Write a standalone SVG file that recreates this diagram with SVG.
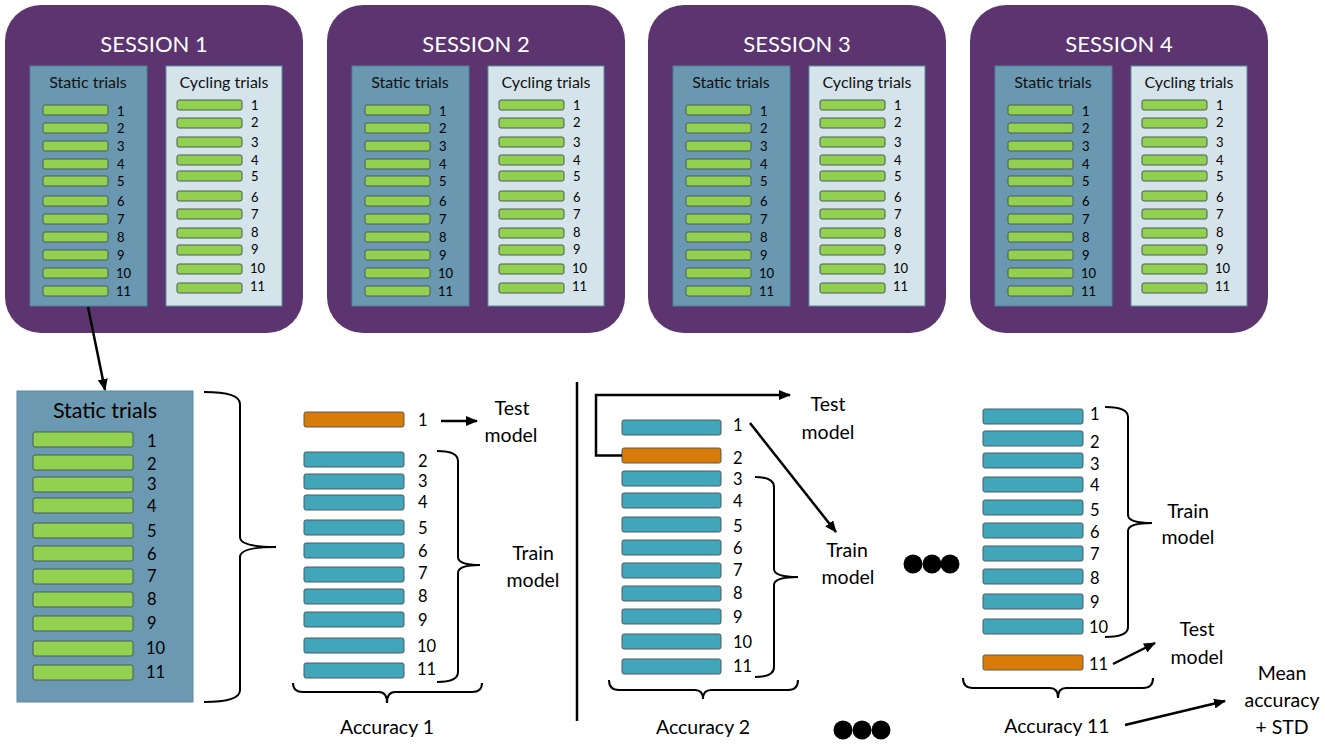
<svg xmlns="http://www.w3.org/2000/svg" width="1325" height="746" viewBox="0 0 1325 746">
<defs>
<style>
text{font-family:Lato,"Open Sans","Liberation Sans",sans-serif;fill:#000}
.sess{fill:#5c3470}
.title{font-size:22px;fill:#fff;text-anchor:middle}
.sp{fill:#6a98b1;stroke:#4f8096;stroke-width:1}
.cp{fill:#d5e4ea;stroke:#5f8d9c;stroke-width:1}
.ph{font-size:16px;text-anchor:middle;fill:#111}
.g{fill:#92d050;stroke:#4a5a52;stroke-width:1}
.t{fill:#42a6bb;stroke:#4a5a62;stroke-width:1}
.o{fill:#d97b09;stroke:#5a5a52;stroke-width:1}
.n{font-size:13px}
.m{font-size:16.5px}
.lbl{font-size:19.5px;text-anchor:middle}
.ln{fill:none;stroke:#000;stroke-width:2.5}
.br{fill:none;stroke:#000;stroke-width:2}
</style>
<marker id="ah" viewBox="0 0 12 10" refX="11" refY="5" markerWidth="12" markerHeight="10" markerUnits="userSpaceOnUse" orient="auto">
<path d="M0,0 L12,5 L0,10 z" fill="#000"/>
</marker>
</defs>

<g id="session1">
<rect class="sess" x="5" y="5" width="298" height="328" rx="36"/>
<text class="title" x="154" y="52">SESSION 1</text>
<rect class="sp" x="30" y="66" width="117" height="240"/>
<text class="ph" x="88" y="88">Static trials</text>
<rect class="g" x="43" y="105" width="65" height="10" rx="2"/><rect class="g" x="43" y="123" width="65" height="10" rx="2"/><rect class="g" x="43" y="141" width="65" height="10" rx="2"/><rect class="g" x="43" y="159" width="65" height="10" rx="2"/><rect class="g" x="43" y="176" width="65" height="10" rx="2"/><rect class="g" x="43" y="196" width="65" height="10" rx="2"/><rect class="g" x="43" y="214" width="65" height="10" rx="2"/><rect class="g" x="43" y="232" width="65" height="10" rx="2"/><rect class="g" x="43" y="250" width="65" height="10" rx="2"/><rect class="g" x="43" y="268" width="65" height="10" rx="2"/><rect class="g" x="43" y="286" width="65" height="10" rx="2"/>
<text class="n" x="117" y="115.5">1</text><text class="n" x="117" y="132.5">2</text><text class="n" x="117" y="150.5">3</text><text class="n" x="117" y="168.5">4</text><text class="n" x="117" y="185.5">5</text><text class="n" x="117" y="205.5">6</text><text class="n" x="117" y="223.5">7</text><text class="n" x="117" y="241.5">8</text><text class="n" x="117" y="259.5">9</text><text class="n" x="116" y="277.5">10</text><text class="n" x="116" y="295.5">11</text>
<rect class="cp" x="166" y="66" width="116" height="240"/>
<text class="ph" x="224" y="88">Cycling trials</text>
<rect class="g" x="177" y="100" width="65" height="10" rx="2"/><rect class="g" x="177" y="118" width="65" height="10" rx="2"/><rect class="g" x="177" y="137" width="65" height="10" rx="2"/><rect class="g" x="177" y="155" width="65" height="10" rx="2"/><rect class="g" x="177" y="171" width="65" height="10" rx="2"/><rect class="g" x="177" y="191" width="65" height="10" rx="2"/><rect class="g" x="177" y="209" width="65" height="10" rx="2"/><rect class="g" x="177" y="228" width="65" height="10" rx="2"/><rect class="g" x="177" y="245" width="65" height="10" rx="2"/><rect class="g" x="177" y="264" width="65" height="10" rx="2"/><rect class="g" x="177" y="283" width="65" height="10" rx="2"/>
<text class="n" x="251" y="109.5">1</text><text class="n" x="251" y="126.5">2</text><text class="n" x="251" y="146.5">3</text><text class="n" x="251" y="164.5">4</text><text class="n" x="251" y="180.5">5</text><text class="n" x="251" y="201.5">6</text><text class="n" x="251" y="218.5">7</text><text class="n" x="251" y="236.5">8</text><text class="n" x="251" y="253.5">9</text><text class="n" x="250" y="272.5">10</text><text class="n" x="250" y="290.5">11</text>
</g>

<g id="session2" transform="translate(322,0)">
<rect class="sess" x="5" y="5" width="298" height="328" rx="36"/>
<text class="title" x="154" y="52">SESSION 2</text>
<rect class="sp" x="30" y="66" width="117" height="240"/>
<text class="ph" x="88" y="88">Static trials</text>
<rect class="g" x="43" y="105" width="65" height="10" rx="2"/><rect class="g" x="43" y="123" width="65" height="10" rx="2"/><rect class="g" x="43" y="141" width="65" height="10" rx="2"/><rect class="g" x="43" y="159" width="65" height="10" rx="2"/><rect class="g" x="43" y="176" width="65" height="10" rx="2"/><rect class="g" x="43" y="196" width="65" height="10" rx="2"/><rect class="g" x="43" y="214" width="65" height="10" rx="2"/><rect class="g" x="43" y="232" width="65" height="10" rx="2"/><rect class="g" x="43" y="250" width="65" height="10" rx="2"/><rect class="g" x="43" y="268" width="65" height="10" rx="2"/><rect class="g" x="43" y="286" width="65" height="10" rx="2"/>
<text class="n" x="117" y="115.5">1</text><text class="n" x="117" y="132.5">2</text><text class="n" x="117" y="150.5">3</text><text class="n" x="117" y="168.5">4</text><text class="n" x="117" y="185.5">5</text><text class="n" x="117" y="205.5">6</text><text class="n" x="117" y="223.5">7</text><text class="n" x="117" y="241.5">8</text><text class="n" x="117" y="259.5">9</text><text class="n" x="116" y="277.5">10</text><text class="n" x="116" y="295.5">11</text>
<rect class="cp" x="166" y="66" width="116" height="240"/>
<text class="ph" x="224" y="88">Cycling trials</text>
<rect class="g" x="177" y="100" width="65" height="10" rx="2"/><rect class="g" x="177" y="118" width="65" height="10" rx="2"/><rect class="g" x="177" y="137" width="65" height="10" rx="2"/><rect class="g" x="177" y="155" width="65" height="10" rx="2"/><rect class="g" x="177" y="171" width="65" height="10" rx="2"/><rect class="g" x="177" y="191" width="65" height="10" rx="2"/><rect class="g" x="177" y="209" width="65" height="10" rx="2"/><rect class="g" x="177" y="228" width="65" height="10" rx="2"/><rect class="g" x="177" y="245" width="65" height="10" rx="2"/><rect class="g" x="177" y="264" width="65" height="10" rx="2"/><rect class="g" x="177" y="283" width="65" height="10" rx="2"/>
<text class="n" x="251" y="109.5">1</text><text class="n" x="251" y="126.5">2</text><text class="n" x="251" y="146.5">3</text><text class="n" x="251" y="164.5">4</text><text class="n" x="251" y="180.5">5</text><text class="n" x="251" y="201.5">6</text><text class="n" x="251" y="218.5">7</text><text class="n" x="251" y="236.5">8</text><text class="n" x="251" y="253.5">9</text><text class="n" x="250" y="272.5">10</text><text class="n" x="250" y="290.5">11</text>
</g>

<g id="session3" transform="translate(643,0)">
<rect class="sess" x="5" y="5" width="298" height="328" rx="36"/>
<text class="title" x="154" y="52">SESSION 3</text>
<rect class="sp" x="30" y="66" width="117" height="240"/>
<text class="ph" x="88" y="88">Static trials</text>
<rect class="g" x="43" y="105" width="65" height="10" rx="2"/><rect class="g" x="43" y="123" width="65" height="10" rx="2"/><rect class="g" x="43" y="141" width="65" height="10" rx="2"/><rect class="g" x="43" y="159" width="65" height="10" rx="2"/><rect class="g" x="43" y="176" width="65" height="10" rx="2"/><rect class="g" x="43" y="196" width="65" height="10" rx="2"/><rect class="g" x="43" y="214" width="65" height="10" rx="2"/><rect class="g" x="43" y="232" width="65" height="10" rx="2"/><rect class="g" x="43" y="250" width="65" height="10" rx="2"/><rect class="g" x="43" y="268" width="65" height="10" rx="2"/><rect class="g" x="43" y="286" width="65" height="10" rx="2"/>
<text class="n" x="117" y="115.5">1</text><text class="n" x="117" y="132.5">2</text><text class="n" x="117" y="150.5">3</text><text class="n" x="117" y="168.5">4</text><text class="n" x="117" y="185.5">5</text><text class="n" x="117" y="205.5">6</text><text class="n" x="117" y="223.5">7</text><text class="n" x="117" y="241.5">8</text><text class="n" x="117" y="259.5">9</text><text class="n" x="116" y="277.5">10</text><text class="n" x="116" y="295.5">11</text>
<rect class="cp" x="166" y="66" width="116" height="240"/>
<text class="ph" x="224" y="88">Cycling trials</text>
<rect class="g" x="177" y="100" width="65" height="10" rx="2"/><rect class="g" x="177" y="118" width="65" height="10" rx="2"/><rect class="g" x="177" y="137" width="65" height="10" rx="2"/><rect class="g" x="177" y="155" width="65" height="10" rx="2"/><rect class="g" x="177" y="171" width="65" height="10" rx="2"/><rect class="g" x="177" y="191" width="65" height="10" rx="2"/><rect class="g" x="177" y="209" width="65" height="10" rx="2"/><rect class="g" x="177" y="228" width="65" height="10" rx="2"/><rect class="g" x="177" y="245" width="65" height="10" rx="2"/><rect class="g" x="177" y="264" width="65" height="10" rx="2"/><rect class="g" x="177" y="283" width="65" height="10" rx="2"/>
<text class="n" x="251" y="109.5">1</text><text class="n" x="251" y="126.5">2</text><text class="n" x="251" y="146.5">3</text><text class="n" x="251" y="164.5">4</text><text class="n" x="251" y="180.5">5</text><text class="n" x="251" y="201.5">6</text><text class="n" x="251" y="218.5">7</text><text class="n" x="251" y="236.5">8</text><text class="n" x="251" y="253.5">9</text><text class="n" x="250" y="272.5">10</text><text class="n" x="250" y="290.5">11</text>
</g>

<g id="session4" transform="translate(965,0)">
<rect class="sess" x="5" y="5" width="298" height="328" rx="36"/>
<text class="title" x="154" y="52">SESSION 4</text>
<rect class="sp" x="30" y="66" width="117" height="240"/>
<text class="ph" x="88" y="88">Static trials</text>
<rect class="g" x="43" y="105" width="65" height="10" rx="2"/><rect class="g" x="43" y="123" width="65" height="10" rx="2"/><rect class="g" x="43" y="141" width="65" height="10" rx="2"/><rect class="g" x="43" y="159" width="65" height="10" rx="2"/><rect class="g" x="43" y="176" width="65" height="10" rx="2"/><rect class="g" x="43" y="196" width="65" height="10" rx="2"/><rect class="g" x="43" y="214" width="65" height="10" rx="2"/><rect class="g" x="43" y="232" width="65" height="10" rx="2"/><rect class="g" x="43" y="250" width="65" height="10" rx="2"/><rect class="g" x="43" y="268" width="65" height="10" rx="2"/><rect class="g" x="43" y="286" width="65" height="10" rx="2"/>
<text class="n" x="117" y="115.5">1</text><text class="n" x="117" y="132.5">2</text><text class="n" x="117" y="150.5">3</text><text class="n" x="117" y="168.5">4</text><text class="n" x="117" y="185.5">5</text><text class="n" x="117" y="205.5">6</text><text class="n" x="117" y="223.5">7</text><text class="n" x="117" y="241.5">8</text><text class="n" x="117" y="259.5">9</text><text class="n" x="116" y="277.5">10</text><text class="n" x="116" y="295.5">11</text>
<rect class="cp" x="166" y="66" width="116" height="240"/>
<text class="ph" x="224" y="88">Cycling trials</text>
<rect class="g" x="177" y="100" width="65" height="10" rx="2"/><rect class="g" x="177" y="118" width="65" height="10" rx="2"/><rect class="g" x="177" y="137" width="65" height="10" rx="2"/><rect class="g" x="177" y="155" width="65" height="10" rx="2"/><rect class="g" x="177" y="171" width="65" height="10" rx="2"/><rect class="g" x="177" y="191" width="65" height="10" rx="2"/><rect class="g" x="177" y="209" width="65" height="10" rx="2"/><rect class="g" x="177" y="228" width="65" height="10" rx="2"/><rect class="g" x="177" y="245" width="65" height="10" rx="2"/><rect class="g" x="177" y="264" width="65" height="10" rx="2"/><rect class="g" x="177" y="283" width="65" height="10" rx="2"/>
<text class="n" x="251" y="109.5">1</text><text class="n" x="251" y="126.5">2</text><text class="n" x="251" y="146.5">3</text><text class="n" x="251" y="164.5">4</text><text class="n" x="251" y="180.5">5</text><text class="n" x="251" y="201.5">6</text><text class="n" x="251" y="218.5">7</text><text class="n" x="251" y="236.5">8</text><text class="n" x="251" y="253.5">9</text><text class="n" x="250" y="272.5">10</text><text class="n" x="250" y="290.5">11</text>
</g>

<g id="staticDetail">
<rect x="17" y="391" width="176" height="311" fill="#6b99b2" stroke="#5c8aa0" stroke-width="1"/>
<text x="105" y="418" font-size="21.5" text-anchor="middle" fill="#111">Static trials</text>
<rect class="g" x="33" y="432" width="100" height="15" rx="2"/>
<rect class="g" x="33" y="455" width="100" height="15" rx="2"/>
<rect class="g" x="33" y="477" width="100" height="15" rx="2"/>
<rect class="g" x="33" y="498" width="100" height="15" rx="2"/>
<rect class="g" x="33" y="523" width="100" height="15" rx="2"/>
<rect class="g" x="33" y="546" width="100" height="15" rx="2"/>
<rect class="g" x="33" y="569" width="100" height="15" rx="2"/>
<rect class="g" x="33" y="592" width="100" height="15" rx="2"/>
<rect class="g" x="33" y="616" width="100" height="15" rx="2"/>
<rect class="g" x="33" y="641" width="100" height="15" rx="2"/>
<rect class="g" x="33" y="665" width="100" height="15" rx="2"/>
<text class="m" x="147" y="447">1</text>
<text class="m" x="147" y="470">2</text>
<text class="m" x="147" y="490">3</text>
<text class="m" x="147" y="512">4</text>
<text class="m" x="147" y="537">5</text>
<text class="m" x="147" y="560">6</text>
<text class="m" x="147" y="582">7</text>
<text class="m" x="147" y="605">8</text>
<text class="m" x="147" y="629">9</text>
<text class="m" x="146" y="654">10</text>
<text class="m" x="146" y="678">11</text>
</g>

<g id="fold1">
<rect class="o" x="304" y="412" width="100" height="15" rx="2"/>
<rect class="t" x="304" y="452" width="100" height="15" rx="2"/>
<rect class="t" x="304" y="474" width="100" height="15" rx="2"/>
<rect class="t" x="304" y="495" width="100" height="15" rx="2"/>
<rect class="t" x="304" y="520" width="100" height="15" rx="2"/>
<rect class="t" x="304" y="543" width="100" height="15" rx="2"/>
<rect class="t" x="304" y="567" width="100" height="15" rx="2"/>
<rect class="t" x="304" y="589" width="100" height="15" rx="2"/>
<rect class="t" x="304" y="612" width="100" height="15" rx="2"/>
<rect class="t" x="304" y="638" width="100" height="15" rx="2"/>
<rect class="t" x="304" y="663" width="100" height="15" rx="2"/>
<text class="m" x="418" y="426">1</text>
<text class="m" x="418" y="467">2</text>
<text class="m" x="418" y="487">3</text>
<text class="m" x="418" y="508">4</text>
<text class="m" x="418" y="534">5</text>
<text class="m" x="418" y="557">6</text>
<text class="m" x="418" y="579">7</text>
<text class="m" x="418" y="602">8</text>
<text class="m" x="418" y="626">9</text>
<text class="m" x="417" y="652">10</text>
<text class="m" x="417" y="675">11</text>
<text class="lbl" x="512" y="415">Test</text>
<text class="lbl" x="511" y="442">model</text>
<text class="lbl" x="533" y="560">Train</text>
<text class="lbl" x="533" y="587">model</text>
<text class="lbl" x="387" y="734">Accuracy 1</text>
</g>

<g id="fold2">
<rect class="t" x="622" y="420" width="99" height="15" rx="2"/>
<rect class="o" x="622" y="448" width="99" height="15" rx="2"/>
<rect class="t" x="622" y="471" width="99" height="15" rx="2"/>
<rect class="t" x="622" y="493" width="99" height="15" rx="2"/>
<rect class="t" x="622" y="517" width="99" height="15" rx="2"/>
<rect class="t" x="622" y="540" width="99" height="15" rx="2"/>
<rect class="t" x="622" y="563" width="99" height="15" rx="2"/>
<rect class="t" x="622" y="586" width="99" height="15" rx="2"/>
<rect class="t" x="622" y="609" width="99" height="15" rx="2"/>
<rect class="t" x="622" y="634" width="99" height="15" rx="2"/>
<rect class="t" x="622" y="659" width="99" height="15" rx="2"/>
<text class="m" x="733" y="431">1</text>
<text class="m" x="733" y="464">2</text>
<text class="m" x="733" y="485">3</text>
<text class="m" x="733" y="507">4</text>
<text class="m" x="733" y="532">5</text>
<text class="m" x="733" y="554">6</text>
<text class="m" x="733" y="576">7</text>
<text class="m" x="733" y="599">8</text>
<text class="m" x="733" y="623">9</text>
<text class="m" x="733" y="648">10</text>
<text class="m" x="733" y="672">11</text>
<text class="lbl" x="828" y="411">Test</text>
<text class="lbl" x="828" y="439">model</text>
<text class="lbl" x="847" y="557">Train</text>
<text class="lbl" x="848" y="584">model</text>
<text class="lbl" x="703" y="734">Accuracy 2</text>
</g>

<g id="fold11">
<rect class="t" x="983" y="409" width="100" height="15" rx="2"/>
<rect class="t" x="983" y="431" width="100" height="15" rx="2"/>
<rect class="t" x="983" y="453" width="100" height="15" rx="2"/>
<rect class="t" x="983" y="477" width="100" height="15" rx="2"/>
<rect class="t" x="983" y="500" width="100" height="15" rx="2"/>
<rect class="t" x="983" y="523" width="100" height="15" rx="2"/>
<rect class="t" x="983" y="546" width="100" height="15" rx="2"/>
<rect class="t" x="983" y="569" width="100" height="15" rx="2"/>
<rect class="t" x="983" y="594" width="100" height="15" rx="2"/>
<rect class="t" x="983" y="619" width="100" height="15" rx="2"/>
<rect class="o" x="983" y="655" width="100" height="15" rx="2"/>
<text class="m" x="1090" y="420">1</text>
<text class="m" x="1090" y="448">2</text>
<text class="m" x="1090" y="470">3</text>
<text class="m" x="1090" y="491">4</text>
<text class="m" x="1090" y="516">5</text>
<text class="m" x="1090" y="538">6</text>
<text class="m" x="1090" y="560">7</text>
<text class="m" x="1090" y="584">8</text>
<text class="m" x="1090" y="608">9</text>
<text class="m" x="1089" y="633">10</text>
<text class="m" x="1089" y="670">11</text>
<text class="lbl" x="1188" y="518">Train</text>
<text class="lbl" x="1188" y="544">model</text>
<text class="lbl" x="1197" y="636">Test</text>
<text class="lbl" x="1197" y="664">model</text>
<text class="lbl" x="1057" y="733">Accuracy 11</text>
</g>

<g id="summary">
<text class="lbl" x="1282" y="680">Mean</text>
<text class="lbl" x="1282" y="707">accuracy</text>
<text class="lbl" x="1282" y="734">+ STD</text>
</g>

<g id="ellipsis1">
<circle cx="913" cy="564" r="9.5"/>
<circle cx="932" cy="564" r="9.5"/>
<circle cx="950" cy="564" r="9.5"/>
</g>
<g id="ellipsis2">
<circle cx="843" cy="730" r="9.5"/>
<circle cx="862" cy="730" r="9.5"/>
<circle cx="881" cy="730" r="9.5"/>
</g>

<g id="connectors">
<line class="ln" x1="88" y1="307" x2="105" y2="390" marker-end="url(#ah)"/>
<path class="br" d="M204,392 Q240,392 240,404 L240,537 Q240,547 276,547 Q240,547 240,557 L240,690 Q240,702 204,702"/>
<line class="ln" x1="441" y1="421" x2="477" y2="421" marker-end="url(#ah)"/>
<path class="br" d="M437,451 Q458,451 458,461 L458,557 Q458,565 480,565 Q458,565 458,573 L458,672 Q458,682 437,682"/>
<path class="br" d="M293,683 Q293,692 303,692 L379,692 Q387,692 387,703 Q387,692 395,692 L472,692 Q482,692 482,683"/>
<line x1="577" y1="382" x2="577" y2="721" stroke="#000" stroke-width="2.5"/>
<path class="ln" d="M622,455.5 L596,455.5 L596,395 L790,395" marker-end="url(#ah)"/>
<line class="ln" x1="750" y1="423" x2="836" y2="532" marker-end="url(#ah)"/>
<path class="br" d="M755,477 Q774,477 774,487 L774,569 Q774,577 798,577 Q774,577 774,585 L774,667 Q774,677 755,677"/>
<path class="br" d="M609,680 Q609,690 619,690 L695,690 Q703,690 703,699 Q703,690 711,690 L788,690 Q798,690 798,680"/>
<path class="br" d="M1105,407 Q1128,407 1128,417 L1128,515 Q1128,523 1152,523 Q1128,523 1128,531 L1128,627 Q1128,637 1105,637"/>
<line class="ln" x1="1113" y1="664" x2="1155" y2="643" marker-end="url(#ah)"/>
<path class="br" d="M963,678 Q963,688 973,688 L1050,688 Q1058,688 1058,698 Q1058,688 1066,688 L1143,688 Q1153,688 1153,678"/>
<line class="ln" x1="1125" y1="725" x2="1225" y2="701" marker-end="url(#ah)"/>
</g>
</svg>
